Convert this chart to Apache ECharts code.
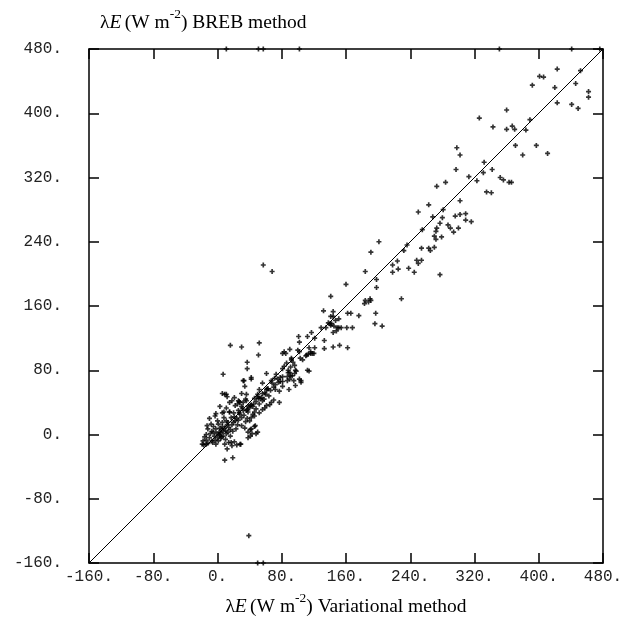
<!DOCTYPE html>
<html>
<head>
<meta charset="utf-8">
<script src="https://cdn.jsdelivr.net/npm/echarts@6/dist/echarts.min.js"></script>
<style>html,body{margin:0;padding:0;background:#fff;}#c{width:626px;height:627px;}</style>
</head>
<body>
<div id="c"></div>
<script>
// Axis tick values
const tickValues = [-160, -80, 0, 80, 160, 240, 320, 400, 480];
// 1:1 reference line end points
const lineRange = [-160, 480];
// Variational method (x) vs BREB method (y), W m-2
const variational = [423,452,401,406,392,446,420,462,462,423,441,449,360,326,389,343,360,367,370,384,371,397,380,411,298,302,297,332,331,342,313,323,352,356,363,366,284,273,335,341,302,263,281,250,296,302,309,268,280,309,316,277,287,290,294,300,273,272,270,272,279,255,270,263,265,254,201,191,232,236,248,250,254,218,224,225,218,238,245,184,277,198,198,160,
141,229,184,183,190,191,188,132,144,162,166,144,141,176,197,151,147,140,138,142,141,145,129,135,149,151,154,161,168,196,205,144,148,133,133,144,152,162,121,118,113,120,112,117,121,101,102,100,102,114,116,111,92,94,92,86,96,98,96,81,83,88,90,73,78,75,78,76,81,87,91,90,67,71,68,81,87,95,102,114,103,106,110,116,97,104,89,70,72,81,83,85,90,112,104,91,97,88,93,81,77,65,56,67,70,77,
16,30,52,51,37,37,7,32,33,42,42,34,61,56,52,63,57,68,39,
9,12,21,36,26,25,28,35,46,50,51,56,59,61,62,52,48,42,38,37,31,32,27,22,46,44,48,52,56,59,61,37,42,46,40,11,15,6,-2,21,17,22,26,30,35,30,34,8,11,13,6,1,3,-2,2,7,9,12,16,19,23,-8,-13,-12,-7,-9,-14,-4,0,-3,-7,1,4,-18,-19,-14,-12,-14,7,11,16,38,42,47,43,48,14,21,18,9,9,19,28,0,6,11,18,30,27,32,36,-3,8,15,40,41,45,53,41,46,50,41,38,24,29,17,12,-17,
2,4,-1,5,3,-5,6,10,14,18,20,24,28,5,-10,-6,-2,10,13,25,33,38,44,55,60,66,72,64,58,50,26,30,36,20,-5,-10,3,15,-16];
const breb = [455,453,446,445,435,437,432,427,420,413,411,406,404,394,392,383,380,384,380,379,360,360,348,350,357,348,330,339,326,330,321,316,320,317,314,314,314,309,302,301,291,286,280,277,272,274,275,271,270,267,265,263,261,257,252,257,257,253,247,243,246,255,233,232,229,232,240,227,229,236,217,213,217,211,216,206,202,207,202,203,199,193,183,187,
172,169,167,163,169,167,165,154,153,151,151,147,147,148,151,144,142,138,139,138,136,135,133,133,133,133,133,133,133,138,135,127,129,117,107,109,111,108,108,101,100,101,122,127,120,122,115,105,103,108,103,99,95,90,93,89,86,79,76,82,85,80,77,75,71,69,66,65,66,72,73,69,67,70,64,60,67,67,69,79,95,93,98,101,61,65,56,59,56,101,103,101,106,80,67,84,80,77,73,72,54,37,42,40,43,40,
111,109,114,99,90,82,75,67,67,69,71,60,76,64,56,57,211,203,-126,
50,47,46,50,42,38,40,44,45,47,45,51,52,56,57,38,41,37,35,31,33,30,27,36,28,25,32,27,31,33,36,20,21,23,17,33,28,27,26,22,21,17,18,21,16,11,8,21,17,15,15,13,8,7,3,4,8,12,6,4,7,13,11,7,4,1,0,-2,-4,-7,-8,-8,-5,-8,-12,-12,-11,-7,-2,1,-2,3,7,11,1,1,-10,-9,-14,-12,-32,-29,-12,17,51,50,42,51,41,40,42,23,28,28,33,36,38,45,6,10,3,-2,-4,-13,-12,-10,-18,-13,
0,2,1,6,-1,3,10,5,9,12,15,20,25,-3,-4,-10,-12,-6,3,12,24,28,35,46,50,55,62,48,44,50,30,35,30,27,10,20,35,40,-3];
// Points off scale, drawn on the top (480) and bottom (-160) border
const topClampX = [11, 51, 57, 102, 351, 441, 476];
const bottomClampX = [50, 57];
const topValue = 480, bottomValue = -160;

const pts = variational.map((x, i) => [x, breb[i]]);
const clampPts = topClampX.map(x => [x, topValue]).concat(bottomClampX.map(x => [x, bottomValue]));

const plus = 'path://M-1,-3H1V-1H3V1H1V3H-1V1H-3V-1H-1Z';
const monoLabel = {fontFamily: 'Liberation Mono', fontSize: 16, color: '#222'};
const axisLine = {show: true, onZero: false, lineStyle: {color: '#000', width: 1.5}};
const tick = {show: true, inside: true, length: 10, lineStyle: {color: '#000', width: 1.5}};
const mn = tickValues[0], mx = tickValues[tickValues.length - 1], step = tickValues[1] - tickValues[0];

const richStyles = {
  n: {fontFamily: 'Liberation Serif', fontSize: 19.5, fill: '#000', verticalAlign: 'bottom', lineHeight: 26},
  i: {fontFamily: 'Liberation Serif', fontSize: 19.5, fontStyle: 'italic', fill: '#000', verticalAlign: 'bottom', lineHeight: 26},
  s: {fontFamily: 'Liberation Serif', fontSize: 13.5, fill: '#000', verticalAlign: 'top', lineHeight: 24}
};

const chart = echarts.init(document.getElementById('c'), null, {renderer: 'canvas'});
chart.setOption({
  animation: false,
  backgroundColor: '#fff',
  grid: {left: 89, right: 23, top: 49, bottom: 64, containLabel: false},
  xAxis: [
    {type: 'value', min: mn, max: mx, interval: step, position: 'bottom',
     axisLine: axisLine, axisTick: tick, splitLine: {show: false},
     axisLabel: Object.assign({margin: 6, formatter: v => v + '.', showMinLabel: true, showMaxLabel: true}, monoLabel)},
    {type: 'value', min: mn, max: mx, interval: step, position: 'top',
     axisLine: axisLine, axisTick: tick, splitLine: {show: false}, axisLabel: {show: false}}
  ],
  yAxis: [
    {type: 'value', min: mn, max: mx, interval: step, position: 'left',
     axisLine: axisLine, axisTick: tick, splitLine: {show: false},
     axisLabel: Object.assign({margin: 27, formatter: v => v + '.', showMinLabel: true, showMaxLabel: true}, monoLabel)},
    {type: 'value', min: mn, max: mx, interval: step, position: 'right',
     axisLine: axisLine, axisTick: tick, splitLine: {show: false}, axisLabel: {show: false}}
  ],
  graphic: [
    {type: 'text', x: 100, y: 7,
     style: {rich: richStyles, text: '{n|λ}{i|E} {n|(W m}{s|-2}{n|) BREB method}'}},
    {type: 'text', x: 346, y: 591,
     style: {rich: richStyles, align: 'center', text: '{n|λ}{i|E} {n|(W m}{s|-2}{n|) Variational method}'}}
  ],
  series: [
    {type: 'line', data: [[lineRange[0], lineRange[0]], [lineRange[1], lineRange[1]]],
     symbol: 'none', lineStyle: {color: '#000', width: 1}, silent: true, z: 1},
    {type: 'scatter', data: pts, symbol: plus, symbolSize: 5, itemStyle: {color: '#000'}, z: 2},
    {type: 'scatter', data: clampPts, symbol: plus, symbolSize: 5, itemStyle: {color: '#000'}, clip: false, z: 3}
  ]
});
</script>
</body>
</html>
